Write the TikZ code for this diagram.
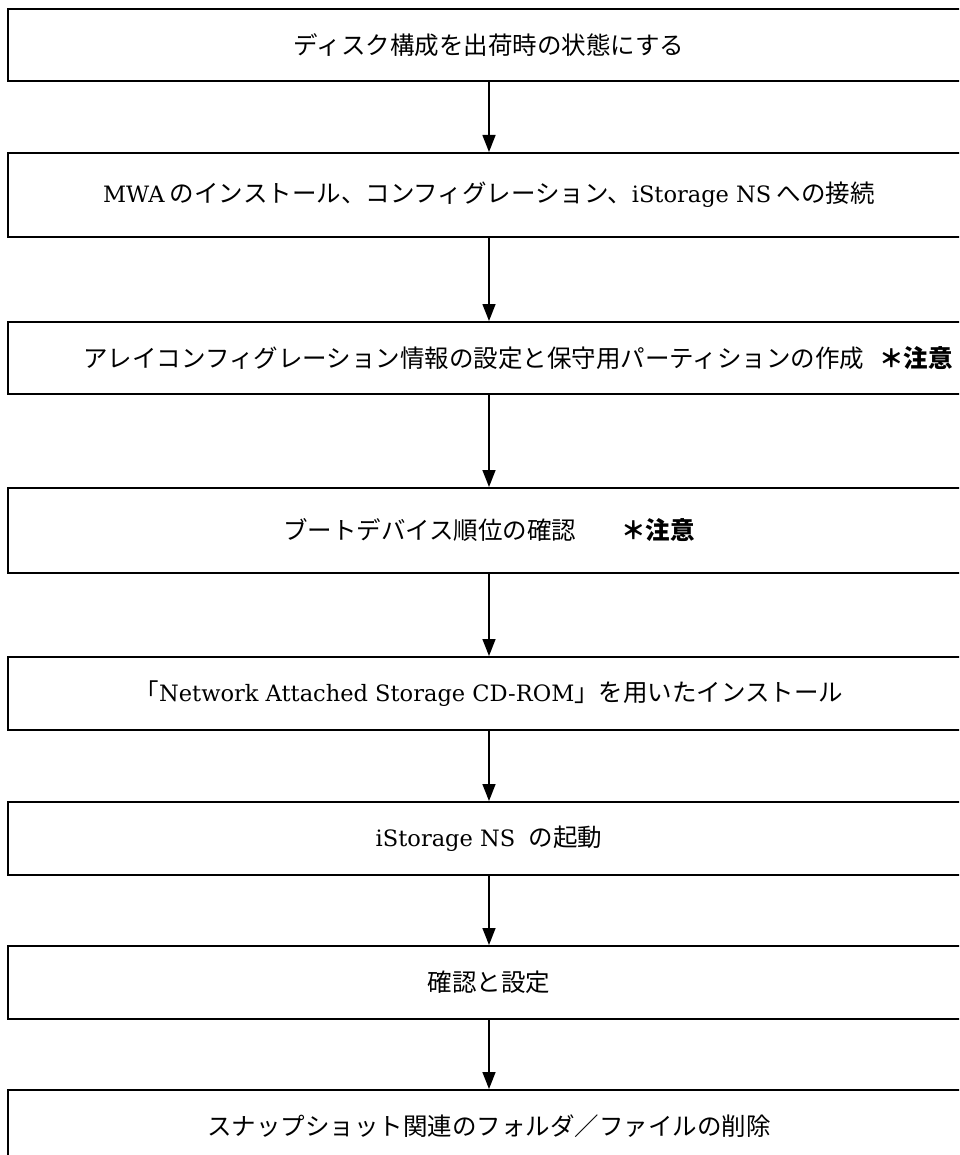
\documentclass[tikz,border=0pt]{standalone}
\usepackage{fontspec}
\usetikzlibrary{arrows.meta}
\newfontfamily\jpfont{Noto Sans CJK JP}
\newfontfamily\latfont{DejaVu Serif}[Scale=0.92]
\newcommand{\lat}[1]{{\latfont #1}}
\newcommand{\chui}{{\bfseries ＊注意}}

\begin{document}
\begin{tikzpicture}[x=1pt,y=-1pt]

          \tikzstyle{stepNode} = [draw, line width=2pt, minimum width=962pt, inner sep=0pt, font=\jpfont\fontsize{24.5}{29}\selectfont];
          \tikzstyle{flowEdge} = [line width=1.5pt, -{Triangle[length=17pt,width=13pt]}];

          \useasboundingbox (0,0) rectangle (959,1155);
          \clip (0,0) rectangle (959,1155);

          \node[stepNode, minimum height=72pt] (disk) at (489,45) {ディスク構成を出荷時の状態にする};
          \node[stepNode, minimum height=84pt] (mwa) at (489,195) {\lat{MWA} のインストール、コンフィグレーション、\lat{iStorage NS} への接続};
          \node[stepNode, minimum height=72pt] (array) at (489,358) {\hspace*{58pt}アレイコンフィグレーション情報の設定と保守用パーティションの作成\hspace{15pt}\chui};
          \node[stepNode, minimum height=85pt] (boot) at (489,530.5) {ブートデバイス順位の確認\hspace{45pt}\chui};
          \node[stepNode, minimum height=73pt] (cdrom) at (489,693.5) {「\lat{Network Attached Storage CD-ROM}」を用いたインストール};
          \node[stepNode, minimum height=73pt] (start) at (489,838.5) {\lat{iStorage NS}\hspace{8pt} の起動};
          \node[stepNode, minimum height=73pt] (check) at (489,982.5) {確認と設定};
          \node[stepNode, minimum height=73pt] (snap) at (489,1126.5) {スナップショット関連のフォルダ／ファイルの削除};

          \draw[flowEdge] (disk) -- (mwa);
          \draw[flowEdge] (mwa) -- (array);
          \draw[flowEdge] (array) -- (boot);
          \draw[flowEdge] (boot) -- (cdrom);
          \draw[flowEdge] (cdrom) -- (start);
          \draw[flowEdge] (start) -- (check);
          \draw[flowEdge] (check) -- (snap);
        \end{tikzpicture}
\end{document}
